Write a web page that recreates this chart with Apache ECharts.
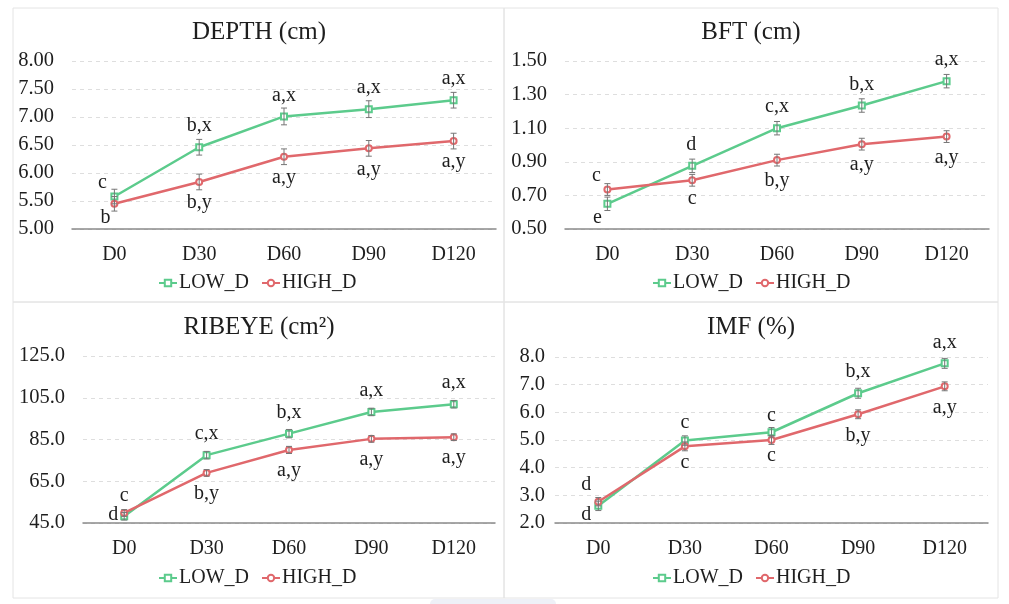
<!DOCTYPE html>
<html lang="en">
<head>
<meta charset="UTF-8">
<title>LOW_D vs HIGH_D</title>
<script src="https://cdn.jsdelivr.net/npm/echarts@6.0.0/dist/echarts.min.js"></script>
<style>
  html, body { margin: 0; height: 100%; background: #fff; }
  #main { width: 1009px; height: 604px; }
</style>
</head>
<body>
<div id="main"></div>
<script>
var days = ['D0', 'D30', 'D60', 'D90', 'D120'];
var seriesNames = ['LOW_D', 'HIGH_D'];

// DEPTH (cm)
var depthLow = [5.58, 6.46, 7.01, 7.14, 7.30];
var depthHigh = [5.45, 5.84, 6.29, 6.44, 6.57];
var depthLowErr = [0.13, 0.14, 0.15, 0.15, 0.14];
var depthHighErr = [0.13, 0.14, 0.14, 0.14, 0.14];
var depthLowSig = ['c', 'b,x', 'a,x', 'a,x', 'a,x'];
var depthHighSig = ['b', 'b,y', 'a,y', 'a,y', 'a,y'];
var depthAxis = [5, 8, 0.5];

// BFT (cm)
var bftLow = [0.65, 0.876, 1.10, 1.235, 1.38];
var bftHigh = [0.735, 0.79, 0.91, 1.005, 1.05];
var bftLowErr = [0.04, 0.04, 0.04, 0.04, 0.04];
var bftHighErr = [0.035, 0.035, 0.035, 0.035, 0.035];
var bftLowSig = ['e', 'd', 'c,x', 'b,x', 'a,x'];
var bftHighSig = ['c', 'c', 'b,y', 'a,y', 'a,y'];
var bftAxis = [0.5, 1.5, 0.2];

// RIBEYE (cm²)
var ribLow = [48.2, 77.5, 87.8, 98.2, 101.9];
var ribHigh = [49.8, 69.0, 80.0, 85.3, 86.1];
var ribLowErr = [1.8, 1.8, 2.0, 1.8, 1.8];
var ribHighErr = [1.6, 1.6, 1.7, 1.6, 1.6];
var ribLowSig = ['d', 'c,x', 'b,x', 'a,x', 'a,x'];
var ribHighSig = ['c', 'b,y', 'a,y', 'a,y', 'a,y'];
var ribAxis = [45, 125, 20];

// IMF (%)
var imfLow = [2.62, 4.98, 5.28, 6.69, 7.77];
var imfHigh = [2.77, 4.77, 5.00, 5.93, 6.94];
var imfLowErr = [0.17, 0.17, 0.17, 0.18, 0.18];
var imfHighErr = [0.15, 0.16, 0.16, 0.16, 0.16];
var imfLowSig = ['d', 'c', 'c', 'b,x', 'a,x'];
var imfHighSig = ['d', 'c', 'c', 'b,y', 'a,y'];
var imfAxis = [2, 8, 1];

var GREEN = '#5ccb8c';
var RED = '#e0686c';
var FONT = '"Liberation Serif", "DejaVu Serif", serif';
var INK = '#1e1e1e';

var panels = [
  {title: 'DEPTH (cm)', low: depthLow, high: depthHigh, lowErr: depthLowErr, highErr: depthHighErr,
   lowSig: depthLowSig, highSig: depthHighSig, axis: depthAxis, digits: 2,
   box: [13, 8, 491, 294], grid: {left: 72, top: 61, width: 424, height: 168}, labelMargin: 18,
   titleX: 259, titleY: 32, legendLeft: 158, legendTop: 273,
   place: {low0: {position: 'top', distance: 0, offset: [-12, 0]},
           high0: {position: 'bottom', distance: 0, offset: [-9, 0]}}},
  {title: 'BFT (cm)', low: bftLow, high: bftHigh, lowErr: bftLowErr, highErr: bftHighErr,
   lowSig: bftLowSig, highSig: bftHighSig, axis: bftAxis, digits: 2,
   box: [504, 8, 494, 294], grid: {left: 565, top: 61, width: 424, height: 168}, labelMargin: 18,
   titleX: 751, titleY: 32, legendLeft: 652, legendTop: 273,
   place: {low0: {position: 'bottom', distance: 0, offset: [-10, 0]},
           high0: {position: 'top', distance: 0, offset: [-11, 0]},
           high1: {position: 'bottom', distance: 4, offset: [0, 0]},
           low1: {position: 'top', distance: 7, offset: [-1, 0]}}},
  {title: 'RIBEYE (cm²)', low: ribLow, high: ribHigh, lowErr: ribLowErr, highErr: ribHighErr,
   lowSig: ribLowSig, highSig: ribHighSig, axis: ribAxis, digits: 1,
   box: [13, 302, 491, 296], grid: {left: 83, top: 356, width: 412, height: 167}, labelMargin: 18,
   titleX: 259, titleY: 327, legendLeft: 158, legendTop: 568,
   place: {low0: {position: 'left', distance: 2, offset: [0, -2]},
           high0: {position: 'top', distance: 3, offset: [0, 0]}}},
  {title: 'IMF (%)', low: imfLow, high: imfHigh, lowErr: imfLowErr, highErr: imfHighErr,
   lowSig: imfLowSig, highSig: imfHighSig, axis: imfAxis, digits: 1,
   box: [504, 302, 494, 296], grid: {left: 555, top: 357, width: 433, height: 166}, labelMargin: 10,
   titleX: 751, titleY: 327, legendLeft: 652, legendTop: 568,
   place: {low0: {position: 'bottom', distance: 0, offset: [-12, -5]},
           high0: {position: 'top', distance: 3, offset: [-12, 0]},
           low1: {position: 'top', distance: 4, offset: [0, 0]},
           high1: {position: 'bottom', distance: 2, offset: [0, 0]},
           low2: {position: 'top', distance: 3, offset: [0, 0]},
           high2: {position: 'bottom', distance: 2, offset: [0, 0]}}}
];

function renderErrorBar(params, api) {
  var x = api.value(0);
  var lo = api.coord([x, api.value(1)]);
  var hi = api.coord([x, api.value(2)]);
  var cap = 3;
  var style = {stroke: '#767676', lineWidth: 1};
  return {
    type: 'group',
    children: [
      {type: 'line', shape: {x1: lo[0], y1: lo[1], x2: hi[0], y2: hi[1]}, style: style},
      {type: 'line', shape: {x1: lo[0] - cap, y1: lo[1], x2: lo[0] + cap, y2: lo[1]}, style: style},
      {type: 'line', shape: {x1: hi[0] - cap, y1: hi[1], x2: hi[0] + cap, y2: hi[1]}, style: style}
    ]
  };
}

var grids = [], xAxes = [], yAxes = [], series = [], legends = [], graphics = [];

panels.forEach(function (p, k) {
  var base = p.axis[0];
  graphics.push({type: 'rect', shape: {x: p.box[0], y: p.box[1], width: p.box[2], height: p.box[3]},
                 style: {fill: 'none', stroke: '#e4e4e4', lineWidth: 1}, silent: true});
  graphics.push({type: 'text', x: p.titleX, y: p.titleY,
                 style: {text: p.title, font: '25px ' + FONT, fill: INK, align: 'center', verticalAlign: 'middle'}});

  grids.push(p.grid);
  xAxes.push({
    type: 'category', gridIndex: k, data: days, boundaryGap: true,
    axisLine: {lineStyle: {color: '#8a8a8a', width: 1.5}},
    axisTick: {show: false},
    axisLabel: {fontFamily: FONT, fontSize: 20, color: INK, margin: 16}
  });
  yAxes.push({
    type: 'value', gridIndex: k, min: 0, max: p.axis[1] - base, interval: p.axis[2],
    axisLine: {show: false}, axisTick: {show: false},
    splitLine: {lineStyle: {color: '#dedede', type: [4, 4]}},
    axisLabel: {fontFamily: FONT, fontSize: 20.5, color: INK, margin: p.labelMargin,
                formatter: function (v) { return (v + base).toFixed(p.digits); }}
  });

  [['low', GREEN, 'emptyRect', 0], ['high', RED, 'emptyCircle', 1]].forEach(function (s) {
    var key = s[0], vals = p[key], sig = p[key + 'Sig'], err = p[key + 'Err'];
    var data = vals.map(function (v, i) {
      var pl = p.place[key + i] || {position: key === 'low' ? 'top' : 'bottom', distance: 7, offset: [0, 0]};
      return {value: v - base, label: {formatter: sig[i], position: pl.position, distance: pl.distance, offset: pl.offset}};
    });
    series.push({
      name: seriesNames[s[3]], type: 'line', xAxisIndex: k, yAxisIndex: k, data: data,
      symbol: s[2], symbolSize: 6, z: 2,
      lineStyle: {color: s[1], width: 2.5},
      itemStyle: {color: s[1], borderWidth: 1.5},
      label: {show: true, fontFamily: FONT, fontSize: 20, color: INK},
      emphasis: {disabled: true}
    });
    series.push({
      type: 'custom', xAxisIndex: k, yAxisIndex: k, z: 3, silent: true,
      renderItem: renderErrorBar,
      encode: {x: 0, y: [1, 2]},
      data: vals.map(function (v, i) { return [i, v - err[i] - base, v + err[i] - base]; })
    });
  });

  legends.push({
    left: p.legendLeft, top: p.legendTop, padding: 0, itemGap: 12,
    itemWidth: 18, itemHeight: 8, data: seriesNames,
    textStyle: {fontFamily: FONT, fontSize: 20, color: INK, padding: [0, 0, 0, -3]}
  });
});

// faint tab shape under the bottom edge
graphics.push({type: 'rect', shape: {x: 430, y: 599, width: 126, height: 10, r: 6},
               style: {fill: '#eef0f7'}, silent: true});

var myChart = echarts.init(document.getElementById('main'));
var option = {
  animation: false,
  backgroundColor: '#fff',
  grid: grids,
  xAxis: xAxes,
  yAxis: yAxes,
  legend: legends,
  series: series,
  graphic: graphics
};
myChart.setOption(option);
</script>
</body>
</html>
